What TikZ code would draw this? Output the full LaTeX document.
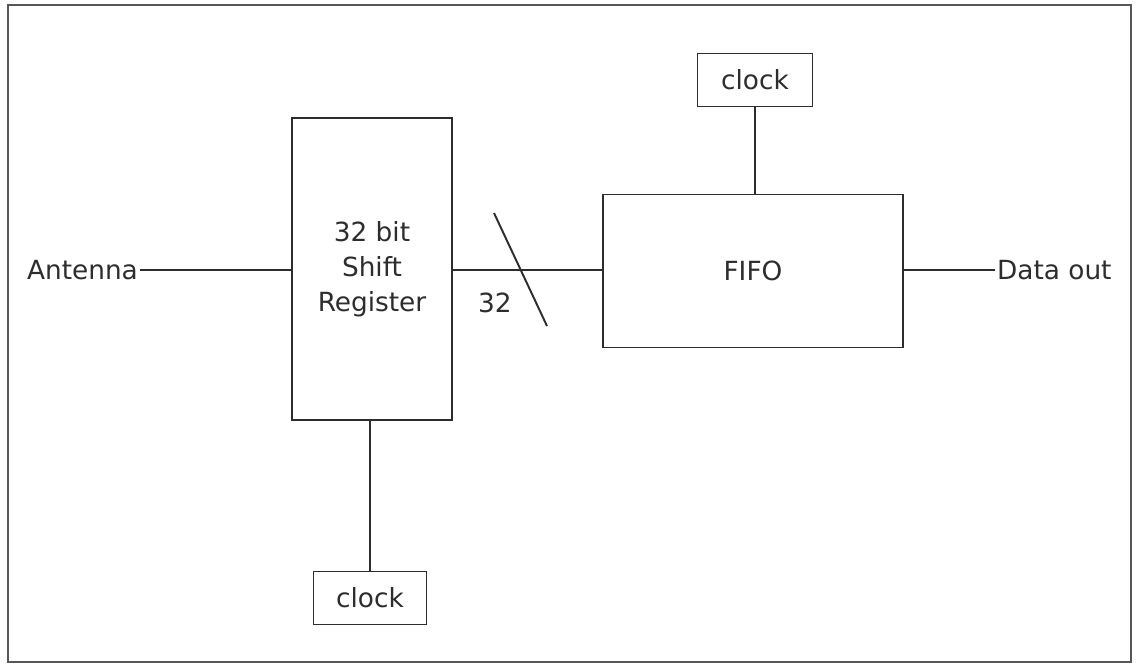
\documentclass[tikz,border=0pt]{standalone}
\usepackage{fontspec}
\setmainfont{DejaVu Sans}
\usepackage{tikz}
\usetikzlibrary{positioning,calc}
\definecolor{inkline}{RGB}{45,45,45}

\begin{document}
\begin{tikzpicture}[
    x=0.02cm, y=-0.02cm,
    every node/.style={font=\fontsize{15}{19.8}\selectfont, text=inkline},
    block/.style={rectangle, draw=inkline, line width=1.1pt, align=center, inner sep=0pt},
    wire/.style={draw=inkline, line width=1.1pt},
]
    \useasboundingbox (0,0) rectangle (1136,667);
    \draw[inkline!80, line width=1.2pt] (8,5) rectangle (1131,662);

    \node[block, minimum width=3.2cm, minimum height=6.04cm] (shiftreg) at (372,269) {32 bit\\Shift\\Register};

    \node[block, minimum width=6cm, minimum height=3.06cm] (fifo) at (753,271) {FIFO};

    \node[block, minimum width=2.3cm, minimum height=1.06cm] (clocktop) at (755,80) {clock};

    \node[block, minimum width=2.26cm, minimum height=1.06cm] (clockbot) at (370,598) {clock};

    \node[anchor=east, inner sep=1pt] (antenna) at (140,270) {Antenna};

    \node[anchor=west, inner sep=1pt] (dataout) at (995,270) {Data out};

    \node (buswidth) at (495,303) {32};

    \draw[wire] (antenna.east) -- (antenna.east -| shiftreg.west);
    \draw[wire] (shiftreg.east |- antenna.east) -- (fifo.west |- antenna.east);
    \draw[wire] (fifo.east |- dataout.west) -- (dataout.west);
    \draw[wire] (clocktop) -- (clocktop |- fifo.north);
    \draw[wire] (shiftreg.south -| clockbot.north) -- (clockbot);
    \draw[wire] (494,213) -- (547,326);
\end{tikzpicture}
\end{document}
